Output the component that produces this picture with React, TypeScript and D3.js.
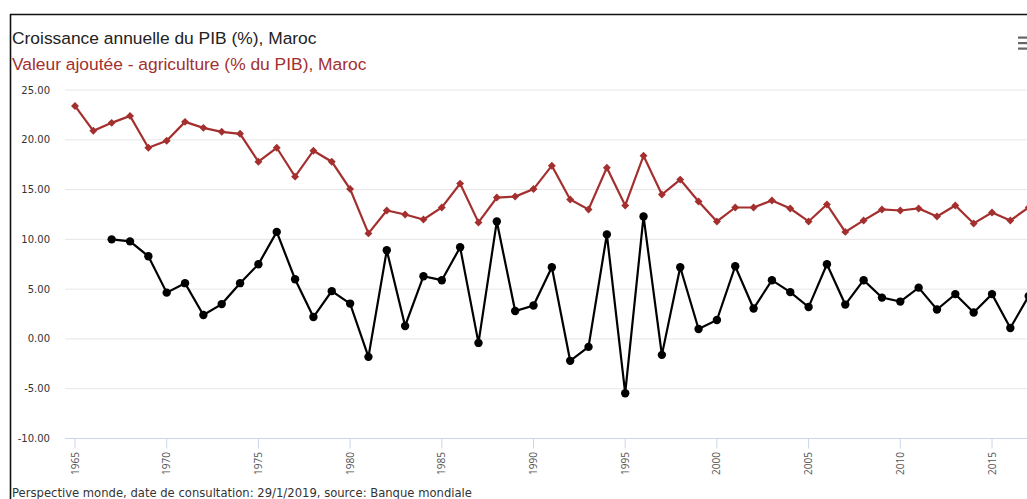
import React from 'react';
import * as d3 from 'd3';

// Valeur ajoutée - agriculture (% du PIB), 1965 -> 2017
const agriYears = d3.range(1965, 2018);
const agriValues = [
  23.4, 20.9, 21.7, 22.4, 19.2, 19.9, 21.8, 21.2, 20.8, 20.6,
  17.8, 19.2, 16.3, 18.9, 17.8, 15.05, 10.6, 12.9, 12.5, 12.0,
  13.2, 15.6, 11.7, 14.2, 14.3, 15.05, 17.4, 14.0, 13.0, 17.2,
  13.4, 18.4, 14.5, 16.0, 13.8, 11.8, 13.2, 13.2, 13.9, 13.1,
  11.8, 13.5, 10.75, 11.9, 13.0, 12.9, 13.1, 12.3, 13.4, 11.6,
  12.7, 11.9, 13.2,
];

// Croissance annuelle du PIB (%), 1967 -> 2017
const gdpYears = d3.range(1967, 2018);
const gdpValues = [
  10.0, 9.8, 8.3, 4.65, 5.6, 2.4, 3.5, 5.6, 7.5, 10.75,
  6.0, 2.2, 4.8, 3.55, -1.8, 8.9, 1.3, 6.3, 5.9, 9.2,
  -0.4, 11.8, 2.8, 3.35, 7.2, -2.2, -0.8, 10.5, -5.45, 12.3,
  -1.6, 7.2, 1.0, 1.9, 7.3, 3.05, 5.9, 4.7, 3.2, 7.5,
  3.45, 5.9, 4.15, 3.75, 5.15, 2.95, 4.5, 2.65, 4.5, 1.1,
  4.3,
];

const yTicks = [25, 20, 15, 10, 5, 0, -5, -10];
const xTicks = [1965, 1970, 1975, 1980, 1985, 1990, 1995, 2000, 2005, 2010, 2015];

const titleGdp = 'Croissance annuelle du PIB (%), Maroc';
const titleAgri = 'Valeur ajoutée - agriculture (% du PIB), Maroc';
const sourceText = 'Perspective monde, date de consultation: 29/1/2019, source: Banque mondiale';

const W = 1027;
const H = 499;
const red = '#a3302f';

const App: React.FC = () => {
  const x = d3.scaleLinear().domain([1965, 2015]).range([75, 992]);
  const y = d3.scaleLinear().domain([-10, 25]).range([438.5, 90]);

  const agriLine = d3.line<number>()
    .x((_, i) => x(agriYears[i]))
    .y(d => y(d));
  const gdpLine = d3.line<number>()
    .x((_, i) => x(gdpYears[i]))
    .y(d => y(d));

  const diamond = d3.symbol().type(d3.symbolDiamond2).size(40)() || '';

  return (
    <svg
      width={W}
      height={H}
      style={{ position: 'absolute', left: 0, top: 0, background: '#fff' }}
    >
      {/* frame */}
      <line x1={10} y1={14.5} x2={W} y2={14.5} stroke="#111" strokeWidth={1.6} />
      <line x1={10.5} y1={14} x2={10.5} y2={H} stroke="#111" strokeWidth={1.6} />

      {/* titles */}
      <text x={12} y={44} fontFamily="'Liberation Sans', Arial, sans-serif" fontSize={17.4} fill="#222">
        {titleGdp}
      </text>
      <text x={12} y={70} fontFamily="'Liberation Sans', Arial, sans-serif" fontSize={17.4} fill={red}>
        {titleAgri}
      </text>

      {/* menu icon */}
      {[37.5, 43, 48.5].map(yy => (
        <rect key={yy} x={1018} y={yy - 1} width={12} height={2.2} fill="#666" />
      ))}

      {/* grid + y labels */}
      {yTicks.map(t => (
        <g key={t}>
          {t !== -10 && (
            <line x1={65} x2={W} y1={y(t)} y2={y(t)} stroke="#e6e6e6" strokeWidth={1} />
          )}
          <text
            x={50}
            y={y(t)}
            dy="0.35em"
            textAnchor="end"
            fontFamily="'DejaVu Sans', Verdana, sans-serif"
            fontSize={10}
            fill="#333"
          >
            {t.toFixed(2)}
          </text>
        </g>
      ))}

      {/* x axis */}
      <line x1={65} x2={W} y1={y(-10)} y2={y(-10)} stroke="#ccd6eb" strokeWidth={1} />
      {xTicks.map(t => (
        <g key={t}>
          <line x1={x(t)} x2={x(t)} y1={y(-10)} y2={y(-10) + 10} stroke="#ccd6eb" strokeWidth={1} />
          <text
            transform={`translate(${x(t) + 3.5},452) rotate(-90)`}
            textAnchor="end"
            fontFamily="'Open Sans', sans-serif"
            fontSize={10}
            fill="#555"
          >
            {t}
          </text>
        </g>
      ))}

      {/* agriculture series */}
      <path d={agriLine(agriValues) || ''} fill="none" stroke={red} strokeWidth={2.2} />
      {agriValues.map((v, i) => (
        <path
          key={`a${i}`}
          d={diamond}
          transform={`translate(${x(agriYears[i])},${y(v)})`}
          fill={red}
        />
      ))}

      {/* gdp series */}
      <path d={gdpLine(gdpValues) || ''} fill="none" stroke="#000" strokeWidth={2.2} />
      {gdpValues.map((v, i) => (
        <circle key={`g${i}`} cx={x(gdpYears[i])} cy={y(v)} r={4.2} fill="#000" />
      ))}

      {/* source */}
      <text x={12} y={497} fontFamily="'DejaVu Sans', Verdana, sans-serif" fontSize={11.6} fill="#333">
        {sourceText}
      </text>
    </svg>
  );
};

export default App;
